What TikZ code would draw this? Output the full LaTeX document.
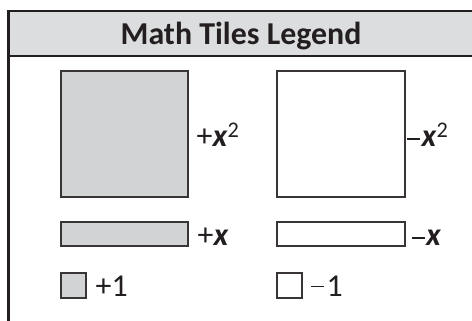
\documentclass[tikz,border=0pt]{standalone}
\usepackage{fontspec}
\setmainfont{Carlito}
\definecolor{ink}{HTML}{231F20}
\definecolor{hdr}{HTML}{DCDDDE}
\definecolor{tilegray}{HTML}{D1D3D4}
\newcommand{\vx}{\textbf{\textit{x}}}
\newcommand{\mns}[1]{\rule[#1]{13bp}{1.5bp}\hspace{1.5bp}}
\begin{document}
\begin{tikzpicture}[x=1bp,y=-1bp,
  tilebase/.style={draw=ink!90, line width=1.4bp, inner sep=0pt, outer sep=0pt},
  postile/.style={tilebase, fill=tilegray},
  negtile/.style={tilebase, fill=white},
  lbl/.style={anchor=base west, inner sep=0pt, text=ink, font=\fontsize{32}{34}\selectfont},
  frameline/.style={draw=ink, line width=2.6bp}]
\useasboundingbox (0,0) rectangle (472,320);
\clip (0,0) rectangle (472,320);
\fill[white] (0,0) rectangle (472,320);
% header band
\path[fill=hdr] (8.5,11) rectangle (480,56);
\draw[frameline] (480,11) -- (8.5,11) -- (8.5,330);
\draw[frameline] (8.5,56) -- (480,56);
\node[anchor=base, inner sep=0pt, text=ink, font=\fontsize{32}{34}\selectfont\bfseries] (title) at (241,44.5) {Math Tiles Legend};
% big tiles
\node[postile, minimum width=127bp, minimum height=126bp] (px2) at (124.5,134) {};
\node[negtile, minimum width=128bp, minimum height=126bp] (nx2) at (341,134) {};
\node[lbl] (lpx2) at (196.5,146) {+\vx\textsuperscript{2}};
\node[lbl] (lnx2) at (407,146) {\color{ink}\mns{6.5bp}\vx\textsuperscript{2}};
% x tiles
\node[postile, minimum width=127bp, minimum height=24bp] (px) at (124.5,234) {};
\node[negtile, minimum width=128bp, minimum height=24bp] (nx) at (341,234) {};
\node[lbl] (lpx) at (197.5,245) {+\vx};
\node[lbl] (lnx) at (411.5,245) {\color{ink}\mns{6.5bp}\vx};
% unit tiles
\node[postile, minimum width=25bp, minimum height=25bp] (p1) at (73.5,285.5) {};
\node[negtile, minimum width=25bp, minimum height=25bp] (n1) at (289.5,285.5) {};
\node[lbl] (lp1) at (95.5,296.5) {+1};
\node[lbl] (ln1) at (311,296.5) {\color{ink}\mns{9.5bp}\hspace{1bp}1};
\end{tikzpicture}
\end{document}
